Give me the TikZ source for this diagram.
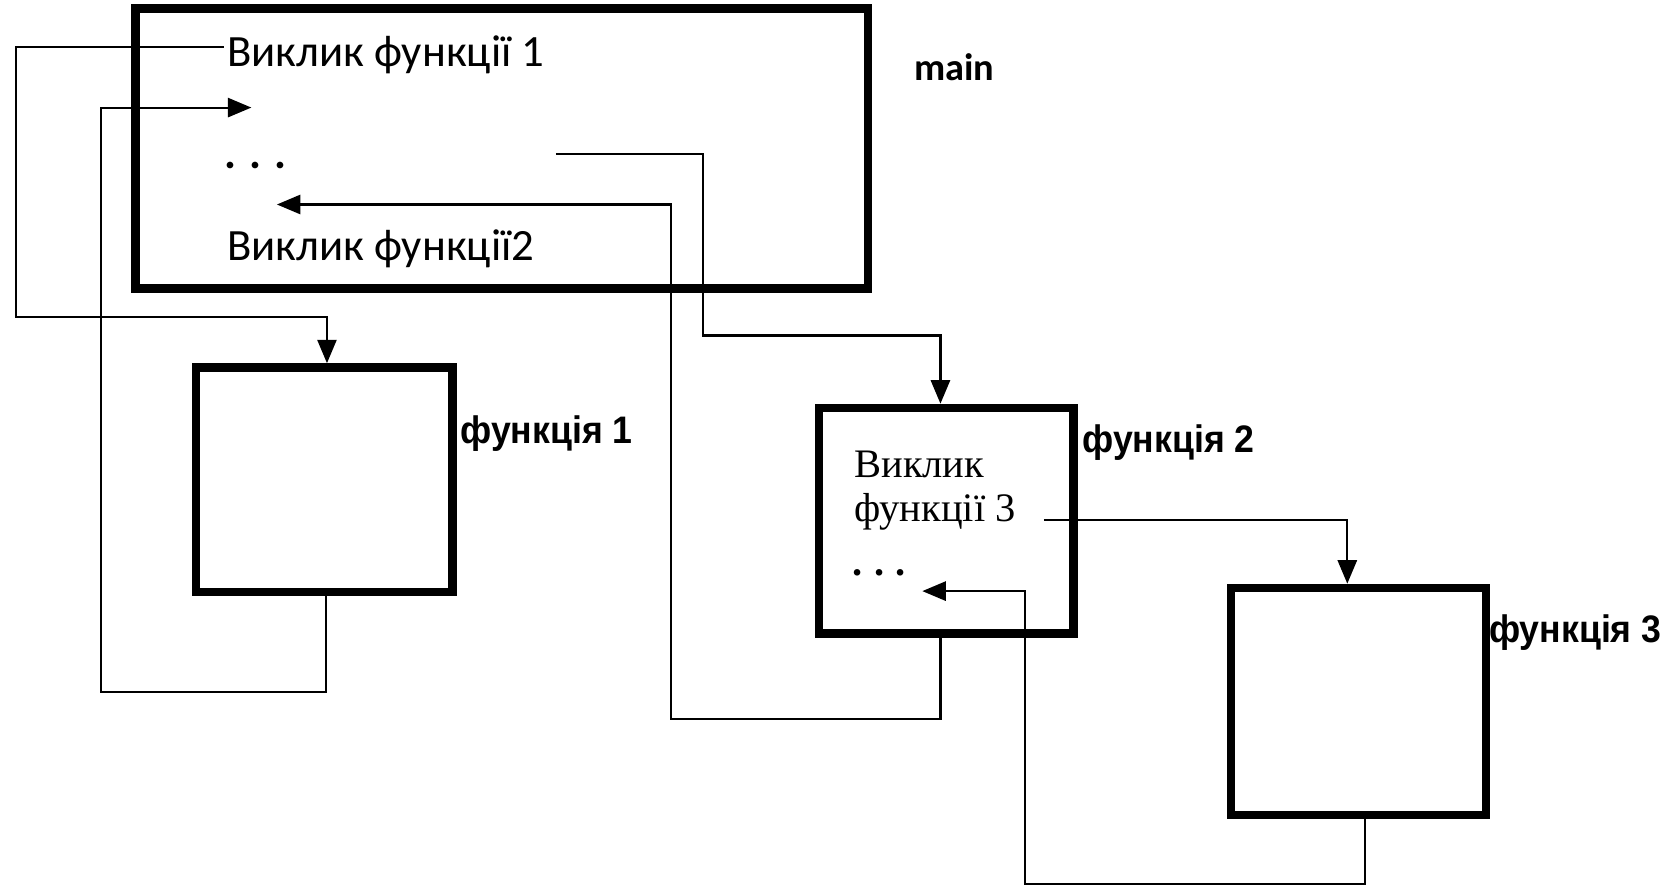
\documentclass[tikz,border=0pt]{standalone}
\usepackage{fontspec}
\usetikzlibrary{arrows.meta,calc}
\newfontfamily\calfont{Carlito}
\newfontfamily\narrowfont[FakeStretch=0.93]{Liberation Sans}
\newfontfamily\serfont{Liberation Serif}
\begin{document}
\begin{tikzpicture}[x=1pt,y=-1pt,
  fbox/.style={draw,line width=8pt,rectangle,inner sep=0pt},
  conn/.style={line width=2pt},
  arr/.style={line width=2pt,-{Triangle[length=22pt,width=18pt]}},
  calt/.style={inner sep=0pt,anchor=base west,font=\calfont\fontsize{42pt}{48pt}\selectfont},
  lbl/.style={inner sep=0pt,anchor=base west,font=\narrowfont\bfseries\fontsize{36pt}{40pt}\selectfont},
  sert/.style={inner sep=0pt,anchor=base west,font=\serfont\fontsize{38pt}{44pt}\selectfont}]
\useasboundingbox (0,0) rectangle (1568,835);
% boxes
\node[fbox,minimum width=688pt,minimum height=263pt] (main) at (471,139.5) {};
\node[fbox,minimum width=241pt,minimum height=211pt] (f1) at (304.5,450.5) {};
\node[fbox,minimum width=239pt,minimum height=212pt] (f2) at (888.5,489) {};
\node[fbox,minimum width=239pt,minimum height=213pt] (f3) at (1275.5,658.5) {};
% labels
\node[inner sep=0pt,anchor=base west,font=\calfont\bfseries\fontsize{36pt}{40pt}\selectfont] (lmain) at (858,76) {main};
\node[lbl] (lf1) at (432,416) {функція 1};
\node[lbl] (lf2) at (1016,425) {функція 2};
\node[lbl] (lf3) at (1398,603) {функція 3};
% texts in main
\node[calt] (t1) at (213,62) {Виклик функції 1};
\node[calt] (tdots) at (211,158) {\bfseries .\hspace{12pt}.\hspace{12pt}.};
\node[calt] (t2) at (213,245) {Виклик функції2};
% texts in f2
\node[sert] (s1) at (802,448) {Виклик};
\node[sert] (s2) at (802,490) {функції 3};
\node[sert] (s3) at (800,540) {\bfseries .\hspace{11pt}.\hspace{11pt}.};
% coordinates
\coordinate (c1) at (210,44);
\coordinate (r1) at (236,101);
\coordinate (d1) at (522,145);
\coordinate (r2) at (260,192);
\coordinate (d2) at (980,488);
\coordinate (r3) at (866,555);
% connectors
\draw[arr] (c1) -- (15,44) -- (15,298) -- (307,298) -- ([xshift=2.5pt]f1.north);
\draw[arr] ([xshift=1.5pt]f1.south) -- (306,650) -- (95,650) -- (95,101) -- (r1);
\draw[arr] (d1) -- (660,145) -- (660,315) -- (883,315) -- ([xshift=-5.5pt]f2.north);
\draw[arr] ([xshift=-5.5pt]f2.south) -- (883,675) -- (630,675) -- (630,192) -- (r2);
\draw[arr] (d2) -- (1265,488) -- ([xshift=-10.5pt]f3.north);
\draw[arr] ([xshift=6.5pt]f3.south) -- (1282,830) -- (962,830) -- (962,555) -- (r3);
\end{tikzpicture}
\end{document}
